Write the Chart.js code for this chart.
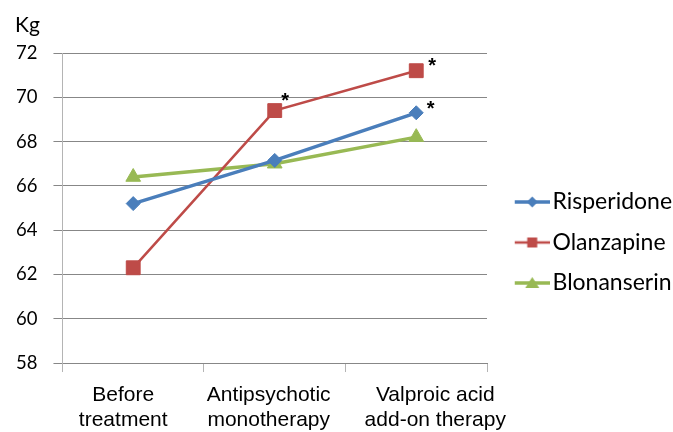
<!DOCTYPE html>
<html>
<head>
<meta charset="utf-8">
<script src="https://cdn.jsdelivr.net/npm/chart.js@4.4.1/dist/chart.umd.min.js"></script>
<style>
  html, body { margin: 0; padding: 0; background: #fff; }
  #wrap { width: 673px; height: 432px; }
</style>
</head>
<body>
<div id="wrap"><canvas id="weightChart" width="673" height="432"></canvas></div>
<script>
// values
const categories = [['Before', 'treatment'], ['Antipsychotic', 'monotherapy'], ['Valproic acid', 'add-on therapy']];
const risperidone = [65.2, 67.15, 69.3];
const olanzapine = [62.3, 69.4, 71.2];
const blonanserin = [66.4, 67.0, 68.2];
// which points carry a significance star
const risperidoneSig = [false, false, true];
const olanzapineSig = [false, true, true];
const blonanserinSig = [false, false, false];
const yMin = 58, yMax = 72, yStep = 2;

const BLUE = '#4a7ebb', RED = '#be4b48', GREEN = '#98b954';

// legend icon: short line with the marker in the middle
function makeIcon(color, style, lw) {
    const c = document.createElement('canvas');
    c.width = 54; c.height = 20;
    const ctx = c.getContext('2d');
    ctx.strokeStyle = color; ctx.fillStyle = color; ctx.lineWidth = lw;
    ctx.beginPath(); ctx.moveTo(19, 10); ctx.lineTo(54, 10); ctx.stroke();
    const mx = 36.5, my = 10;
    ctx.beginPath();
    if (style === 'rectRot') {
        ctx.moveTo(mx, my - 5.5); ctx.lineTo(mx + 5.5, my); ctx.lineTo(mx, my + 5.5); ctx.lineTo(mx - 5.5, my);
    } else if (style === 'rect') {
        ctx.rect(mx - 5, my - 5, 10, 10);
    } else {
        ctx.moveTo(mx, my - 6); ctx.lineTo(mx + 7, my + 5); ctx.lineTo(mx - 7, my + 5);
    }
    ctx.closePath(); ctx.fill();
    return c;
}
const icons = [makeIcon(BLUE, 'rectRot', 3.5), makeIcon(RED, 'rect', 2.5), makeIcon(GREEN, 'triangle', 3.5)];

const starPlugin = {
    id: 'stars',
    afterDatasetsDraw(chart, args, opts) {
        const ctx = chart.ctx;
        ctx.save();
        ctx.fillStyle = '#000';
        ctx.font = 'bold 20px "Liberation Sans", Arial, sans-serif';
        ctx.textAlign = 'center';
        ctx.textBaseline = 'alphabetic';
        chart.data.datasets.forEach((ds, di) => {
            const meta = chart.getDatasetMeta(di);
            ds.sig.forEach((s, i) => {
                if (!s) return;
                const pt = meta.data[i];
                const off = opts.offsets[di + ':' + i] || [12, -12];
                ctx.fillText('*', pt.x + off[0], pt.y + off[1] + 11.5);
            });
        });
        ctx.restore();
    }
};

// the original nudges the category labels a little sideways
const labelNudge = {
    id: 'labelNudge',
    beforeDraw(chart, args, opts) {
        const scale = chart.scales.x;
        if (!scale || typeof scale.getLabelItems !== 'function') return;
        const items = scale.getLabelItems(chart.chartArea);
        items.forEach((it, i) => {
            if (it._nudged || !it.options || !it.options.translation) return;
            it.options.translation[0] += opts.shift[i] || 0;
            it._nudged = true;
        });
    }
};

const unitPlugin = {
    id: 'unitLabel',
    afterDraw(chart) {
        const ctx = chart.ctx;
        ctx.save();
        ctx.fillStyle = '#000';
        ctx.font = '21px Lato, sans-serif';
        ctx.textAlign = 'left';
        ctx.textBaseline = 'alphabetic';
        ctx.fillText('Kg', 15, 32);
        ctx.restore();
    }
};

const weightData = {
    labels: categories,
    datasets: [
        {
            label: 'Risperidone',
            data: risperidone,
            sig: risperidoneSig,
            borderColor: BLUE,
            backgroundColor: BLUE,
            borderWidth: 3.5,
            pointStyle: 'rectRot',
            pointRadius: 7,
            pointHoverRadius: 7,
            pointBorderWidth: 1
        },
        {
            label: 'Olanzapine',
            data: olanzapine,
            sig: olanzapineSig,
            borderColor: RED,
            backgroundColor: RED,
            borderWidth: 2.5,
            pointStyle: 'rect',
            pointRadius: 9.8,
            pointHoverRadius: 9.8,
            pointBorderWidth: 1
        },
        {
            label: 'Blonanserin',
            data: blonanserin,
            sig: blonanserinSig,
            borderColor: GREEN,
            backgroundColor: GREEN,
            borderWidth: 3.5,
            pointStyle: 'triangle',
            pointRadius: 8.5,
            pointHoverRadius: 8.5,
            pointBorderWidth: 1
        }
    ]
};

const weightConfig = {
    type: 'line',
    data: weightData,
    plugins: [starPlugin, labelNudge, unitPlugin],
    options: {
        responsive: false,
        animation: false,
        layout: { padding: { top: 53, left: 0, right: 0, bottom: 0 } },
        plugins: {
            tooltip: { enabled: false },
            stars: { offsets: { '1:1': [10.5, -15.5], '1:2': [15.8, -10], '0:2': [14.3, -9.6] } },
            labelNudge: { shift: [-10, -6, 19] },
            legend: {
                position: 'right',
                maxWidth: 186,
                labels: {
                    usePointStyle: true,
                    pointStyleWidth: 36.5,
                    padding: 17.5,
                    color: '#000',
                    font: { family: 'Lato, sans-serif', size: 23 },
                    generateLabels(chart) {
                        const items = Chart.defaults.plugins.legend.labels.generateLabels(chart);
                        items.forEach((it, i) => { it.pointStyle = icons[i]; });
                        return items;
                    }
                }
            }
        },
        scales: {
            x: {
                offset: true,
                afterFit(scale) { scale.height -= 12; },
                grid: { offset: true, drawOnChartArea: false, drawTicks: true, tickLength: 9, color: '#b4b4b4' },
                border: { display: true, color: '#878787' },
                ticks: {
                    color: '#000',
                    padding: 11,
                    maxRotation: 0,
                    autoSkip: false,
                    font: { family: '"Liberation Sans", Arial, sans-serif', size: 21, lineHeight: 1.19 }
                }
            },
            y: {
                min: yMin,
                max: yMax,
                grid: { color: '#878787', tickLength: 9 },
                border: { display: true, color: '#b4b4b4' },
                ticks: {
                    stepSize: yStep,
                    color: '#000',
                    padding: 16,
                    font: { family: 'Lato, sans-serif', size: 18.5 }
                }
            }
        }
    }
};

const weightChart = new Chart(document.getElementById('weightChart'), weightConfig);
</script>
</body>
</html>
